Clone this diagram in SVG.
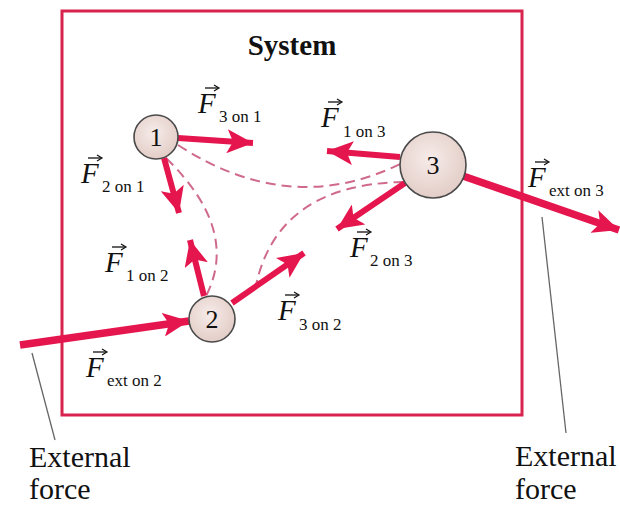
<svg xmlns="http://www.w3.org/2000/svg" width="620" height="525" viewBox="0 0 620 525">
<defs>
<style>
.force{stroke:#e5154e;stroke-width:6;fill:none;marker-end:url(#head);stroke-linecap:butt}
.ext{stroke-width:7.5}
.dash{stroke:#d06a8a;stroke-width:2;fill:none;stroke-dasharray:10 6}
.ball{fill:url(#ballg);stroke:#4a4a4a;stroke-width:1.6}
.num{font-family:"Liberation Serif",serif;font-size:26px;fill:#111;text-anchor:middle}
.F{font-family:"Liberation Serif",serif;font-style:italic;font-size:29px;fill:#111}
.sub{font-family:"Liberation Serif",serif;font-size:17px;fill:#111}
.lbl{font-family:"Liberation Serif",serif;font-size:30px;fill:#111}
.title{font-family:"Liberation Serif",serif;font-weight:bold;font-size:29px;fill:#111;text-anchor:middle}
.leader{stroke:#666;stroke-width:1.3;fill:none}
</style>
<radialGradient id="ballg" cx="0.45" cy="0.4" r="0.6">
<stop offset="0" stop-color="#f6ecea"/>
<stop offset="1" stop-color="#e3cdc7"/>
</radialGradient>
<marker id="head" markerUnits="userSpaceOnUse" markerWidth="28" markerHeight="24" refX="26" refY="12" orient="auto" viewBox="0 0 28 24">
<path d="M0,0 L26,12 L0,24 L6,12 Z" fill="#e5154e"/>
</marker>
<g id="vec">
<path d="M0,0 L13,0" stroke="#111" stroke-width="1.3"/>
<path d="M9,-3 L14,0 L9,3" stroke="#111" stroke-width="1.2" fill="none"/>
</g>
</defs>
<rect width="620" height="525" fill="#ffffff"/>
<g id="system">
<rect x="62" y="11" width="460" height="404" fill="none" stroke="#d9234f" stroke-width="3"/>
<text class="title" x="292" y="55">System</text>
</g>
<g id="connectors">
<path class="dash" d="M178,145 Q290,218 400,164"/>
<path class="dash" d="M166,158 Q240,230 206,296"/>
<path class="dash" d="M255,290 Q275,185 402,182"/>
<path class="force" d="M178,138 L253,143"/>
<path class="force" d="M164,158 L179,213"/>
<path class="force" d="M400,157 L327,151"/>
<path class="force" d="M405,183 L337,229"/>
<path class="force ext" d="M463,176 L619,230"/>
<path class="force" d="M204,296 L190,240"/>
<path class="force" d="M232,303 L304,253"/>
<path class="force ext" d="M20,345 L189,321"/>
<path class="leader" d="M32,353 L55,440"/>
<path class="leader" d="M542,217 L566,433"/>
</g>
<g id="particle1">
<circle class="ball" cx="156" cy="137" r="22"/>
<text class="num" x="156" y="146">1</text>
</g>
<g id="particle2">
<circle class="ball" cx="212" cy="319" r="23"/>
<text class="num" x="212" y="328">2</text>
</g>
<g id="particle3">
<circle class="ball" cx="433" cy="165" r="33"/>
<text class="num" x="433" y="174">3</text>
</g>
<g id="labels">
<text class="F" x="198" y="113">F</text><use href="#vec" x="205" y="88"/><text class="sub" x="219" y="122">3 on 1</text>
<text class="F" x="81" y="183">F</text><use href="#vec" x="88" y="158"/><text class="sub" x="102" y="192">2 on 1</text>
<text class="F" x="105" y="272">F</text><use href="#vec" x="112" y="247"/><text class="sub" x="126" y="281">1 on 2</text>
<text class="F" x="86" y="377">F</text><use href="#vec" x="93" y="352"/><text class="sub" x="107" y="386">ext on 2</text>
<text class="F" x="278" y="320">F</text><use href="#vec" x="285" y="295"/><text class="sub" x="299" y="330">3 on 2</text>
<text class="F" x="321" y="127">F</text><use href="#vec" x="328" y="102"/><text class="sub" x="343" y="137">1 on 3</text>
<text class="F" x="350" y="257">F</text><use href="#vec" x="357" y="232"/><text class="sub" x="370" y="266">2 on 3</text>
<text class="F" x="528" y="187">F</text><use href="#vec" x="535" y="162"/><text class="sub" x="549" y="196">ext on 3</text>
<text class="lbl" x="29" y="467">External</text>
<text class="lbl" x="29" y="499">force</text>
<text class="lbl" x="515" y="466">External</text>
<text class="lbl" x="515" y="499">force</text>
</g>
</svg>
